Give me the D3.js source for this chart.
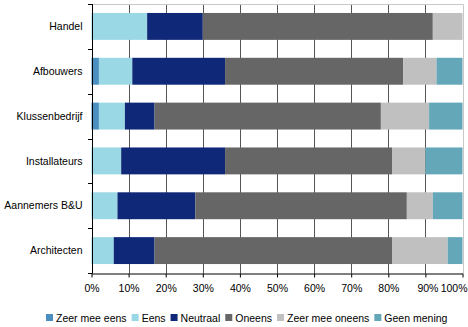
<!DOCTYPE html>
<html><head><meta charset="utf-8">
<script src="https://cdn.jsdelivr.net/npm/d3@7"></script>
<style>body{margin:0;background:#fff}svg{display:block}text{font-family:"Liberation Sans",Arial,sans-serif;fill:#000}</style>
</head><body><svg id="c" width="468" height="327"></svg>
<script>
const categories = ["Handel","Afbouwers","Klussenbedrijf","Installateurs","Aannemers B&U","Architecten"];
const seriesNames = ["Zeer mee eens","Eens","Neutraal","Oneens","Zeer mee oneens","Geen mening"];
const zeerMeeEens   = [0, 2, 2, 0, 0, 0];
const eens          = [15, 9, 7, 8, 7, 6];
const neutraal      = [15, 25, 8, 28, 21, 11];
const oneens        = [62, 48, 61, 45, 57, 64];
const zeerMeeOneens = [8, 9, 13, 9, 7, 15];
const geenMening    = [0, 7, 9, 10, 8, 4];
const tickLabels = ["0%","10%","20%","30%","40%","50%","60%","70%","80%","90%","100%"];
const colors = ["#4a8fc0","#9ad8e6","#0f2878","#666666","#c0c0c0","#63a7b8"];

const seriesValues = [zeerMeeEens, eens, neutraal, oneens, zeerMeeOneens, geenMening];
const rows = categories.map((c,i)=>{const r={cat:c}; seriesNames.forEach((s,j)=>r[s]=seriesValues[j][i]); return r;});
const stack = d3.stack().keys(seriesNames)(rows);

const FS = 10.5;
const svg = d3.select("#c");
const m = {l:91.5, r:462.5, t:4, b:273};
const x = d3.scaleLinear().domain([0,100]).range([m.l, m.r]);
const y = d3.scaleBand().domain(categories).range([m.t, m.b]).paddingInner(0.4).paddingOuter(0.2);
const yb = d3.scaleBand().domain(categories).range([m.t, m.b]);

// gridlines
svg.append("g").selectAll("line").data(d3.range(10,100,10)).join("line")
  .attr("x1",d=>Math.round(x(d))+0.5).attr("x2",d=>Math.round(x(d))+0.5)
  .attr("y1",m.t).attr("y2",m.b).attr("stroke","#555").attr("stroke-width",1);
// top/right border
svg.append("path").attr("d",`M${m.l},${m.t+0.5}H${Math.round(m.r)+0.5}V${m.b}`)
  .attr("fill","none").attr("stroke","#c8c8c8");

// bars
svg.append("g").selectAll("g").data(stack).join("g").attr("fill",(d,i)=>colors[i])
  .selectAll("rect").data(d=>d).join("rect")
  .attr("x",d=>x(d[0])).attr("width",d=>x(d[1])-x(d[0]))
  .attr("y",d=>y(d.data.cat)).attr("height",y.bandwidth());

// y axis
const ya = svg.append("g");
ya.append("line").attr("x1",Math.round(m.l)+0.5).attr("x2",Math.round(m.l)+0.5).attr("y1",m.t).attr("y2",m.b).attr("stroke","#000");
ya.selectAll("line.t").data(d3.range(0,categories.length+1)).join("line").attr("class","t")
  .attr("x1",Math.round(m.l)-4).attr("x2",Math.round(m.l)+0.5)
  .attr("y1",d=>Math.round(m.t + d*yb.bandwidth())+0.5).attr("y2",d=>Math.round(m.t + d*yb.bandwidth())+0.5)
  .attr("stroke","#000");
ya.selectAll("text").data(categories).join("text")
  .attr("x",82.5).attr("y",d=>y(d)+y.bandwidth()/2).attr("dy","0.35em")
  .attr("text-anchor","end").attr("font-size",FS).text(d=>d);

// x axis
const xa = svg.append("g").attr("transform",`translate(0,${m.b+0.5})`)
  .call(d3.axisBottom(x).tickValues(d3.range(0,101,10)).tickFormat((d,i)=>tickLabels[i]).tickSize(4).tickSizeOuter(0));
xa.select(".domain").attr("stroke","#000");
xa.selectAll(".tick line").attr("stroke","#000");
xa.selectAll(".tick text").attr("font-size",FS).attr("font-family","Liberation Sans, Arial, sans-serif").attr("y",11);
xa.selectAll(".tick text").filter(d=>d===90).attr("dx",2);
xa.selectAll(".tick text").filter(d=>d===100).attr("text-anchor","end").attr("x",467-x(100));

// legend
const leg = svg.append("g").attr("transform","translate(46,318)");
let lx = 0;
seriesNames.forEach((s,i)=>{
  const g = leg.append("g").attr("transform",`translate(${lx},0)`);
  g.append("rect").attr("x",0).attr("y",-4).attr("width",7).attr("height",7).attr("fill",colors[i]);
  const t = g.append("text").attr("x",10).attr("y",0).attr("dy","0.35em").attr("font-size",FS).text(s);
  lx += 10 + t.node().getComputedTextLength() + 5;
});
</script></body></html>
